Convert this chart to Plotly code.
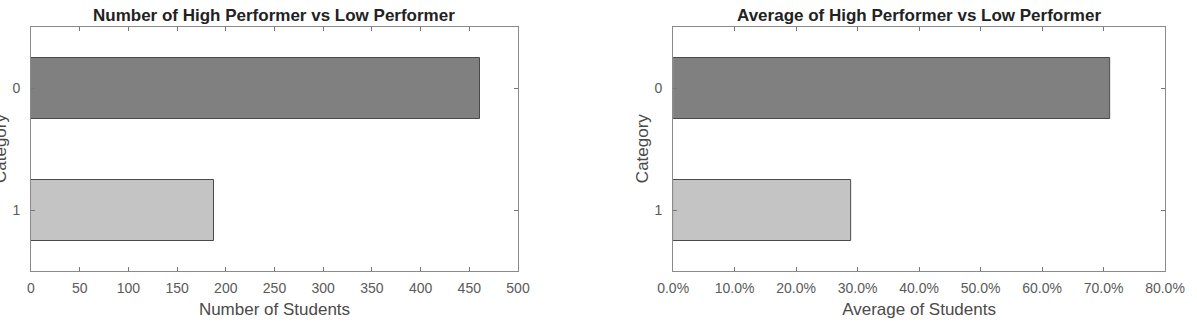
import plotly.graph_objects as go

categories = ["0", "1"]
num_students = [461, 188]
avg_students = [0.710, 0.290]
bar_colors = ["#808080", "#c4c4c4"]
count_ticks = list(range(0, 501, 50))
pct_ticks = [i / 10 for i in range(0, 9)]

W, H = 1197, 330
ml, mr, mt, mb = 23, 12, 27, 59
pw = W - ml - mr

FONT = "Liberation Sans, Arial, Helvetica, sans-serif"
tickfont = dict(family=FONT, size=14, color="#5a5a5a")
titlefont = dict(family=FONT, size=17, color="#4a4a4a")
edge = dict(color="#4a4a4a", width=1)

fig = go.Figure()
fig.add_trace(go.Bar(x=num_students, y=categories, orientation="h", width=0.5,
                     marker=dict(color=bar_colors, line=edge),
                     xaxis="x", yaxis="y", showlegend=False))
fig.add_trace(go.Bar(x=avg_students, y=categories, orientation="h", width=0.5,
                     marker=dict(color=bar_colors, line=edge),
                     xaxis="x2", yaxis="y2", showlegend=False))

axcommon = dict(showline=True, linecolor="#8a8a8a", linewidth=1, mirror="ticks",
                ticks="inside", ticklen=4, tickcolor="#777777", showgrid=False,
                zeroline=False, tickfont=tickfont)

d1 = [0, 499 / pw]
d2 = [658 / pw, 1]

fig.update_layout(
    width=W, height=H, margin=dict(l=ml, r=mr, t=mt, b=mb),
    paper_bgcolor="white", plot_bgcolor="white", bargap=0,
    font=dict(family=FONT),
    xaxis=dict(domain=d1, range=[0, 500], tickvals=count_ticks, ticklabelstandoff=4,
               title=dict(text="Number of Students", font=titlefont, standoff=8), **axcommon),
    yaxis=dict(domain=[0, 1], type="category", categoryarray=categories,
               range=[1.5, -0.5], anchor="x", ticklabelstandoff=7, **axcommon),
    xaxis2=dict(domain=d2, range=[0, 0.8], tickvals=pct_ticks, tickformat=".1%",
                anchor="y2", ticklabelstandoff=4,
                title=dict(text="Average of Students", font=titlefont, standoff=8), **axcommon),
    yaxis2=dict(domain=[0, 1], type="category", categoryarray=categories,
                range=[1.5, -0.5], anchor="x2", ticklabelstandoff=7, **axcommon),
)

tfont = dict(family=FONT, size=17, color="#222222")
fig.add_annotation(text="<b>Number of High Performer vs Low Performer</b>",
                   xref="paper", yref="paper", x=(d1[0] + d1[1]) / 2, y=1,
                   yshift=0, xanchor="center", yanchor="bottom", showarrow=False,
                   font=tfont)
fig.add_annotation(text="<b>Average of High Performer vs Low Performer</b>",
                   xref="paper", yref="paper", x=(d2[0] + d2[1]) / 2, y=1,
                   yshift=0, xanchor="center", yanchor="bottom", showarrow=False,
                   font=tfont)
for dom in (d1, d2):
    fig.add_annotation(text="Category", xref="paper", yref="paper", x=dom[0], y=0.5,
                       xshift=-31, textangle=-90, xanchor="center", yanchor="middle",
                       showarrow=False, font=titlefont)

fig.write_html("out.html")
